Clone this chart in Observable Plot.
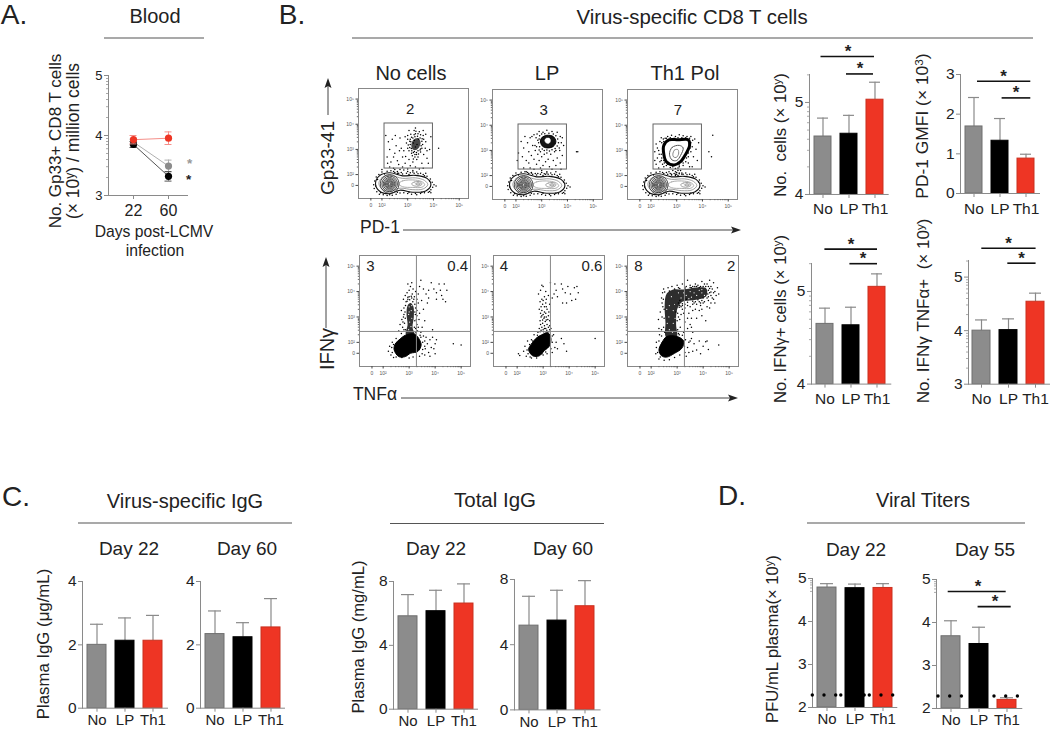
<!DOCTYPE html>
<html><head><meta charset="utf-8">
<script src="https://cdn.jsdelivr.net/npm/d3@7"></script>
<script src="https://cdn.jsdelivr.net/npm/@observablehq/plot@0.6"></script>
<style>
html,body{margin:0;padding:0;background:#fff}
#page{position:relative;width:1050px;height:730px;overflow:hidden;font-family:"Liberation Sans",Arial,sans-serif;color:#222}
.lab{position:absolute;white-space:nowrap;line-height:1}
.lab sup{font-size:.68em;line-height:0;vertical-align:.42em}
</style></head><body><div id="page"></div>
<script>
// ---------- bar chart data ----------
const groups = ["No","LP","Th1"];
const groupColors = {No:"#8c8c8c",LP:"#000000",Th1:"#ee3524"};
const groupEdges = {No:"#6f6f6f",LP:"#000000",Th1:"#c9301f"};

const cellsMean = [4.63,4.66,5.03], cellsErr = [4.83,4.86,5.22];
const pd1Mean = [1.69,1.33,0.88], pd1Err = [2.42,1.89,0.99];
const ifnMean = [4.65,4.635,5.05], ifnErr = [4.82,4.83,5.19];
const dualMean = [4.0,4.01,4.54], dualErr = [4.2,4.22,4.7];
const vsIg22Mean = [2.0,2.13,2.13], vsIg22Err = [2.65,2.85,2.93];
const vsIg60Mean = [2.34,2.24,2.55], vsIg60Err = [3.07,2.7,3.46];
const totIg22Mean = [5.82,6.14,6.62], totIg22Err = [7.18,7.45,7.85];
const totIg60Mean = [5.17,5.48,6.36], totIg60Err = [6.97,7.34,7.93];
const titer22Mean = [4.79,4.775,4.78], titer22Err = [4.88,4.87,4.88];
const titer55Mean = [3.68,3.5,2.2], titer55Err = [4.04,3.89,2.25];
const detectionLimit = 2.29;

const logTicks45 = [4.3,4.48,4.6,4.7,4.78,4.85,4.9,4.95,5.3];
const logTicks35 = [3.3,3.48,3.6,3.7,3.78,3.85,3.9,3.95,4.3,4.48,4.6,4.7,4.78,4.85,4.9,4.95,5.3];
const logTicksTop = [4.7,4.78,4.85,4.9,4.95];

// ---------- blood time course ----------
const days = ["22","60"];
const bloodGray = [3.89,3.49], bloodGrayErr = [0.05,0.1];
const bloodBlack = [3.85,3.32], bloodBlackErr = [0.05,0.08];
const bloodRed = [3.93,3.955], bloodRedErr = [0.07,0.105];

// ---------- flow cytometry, in log10 units ----------
const flowTicks = [1.57,2,3,4,5];
const flowTickText = {1.57:"0",2:"10²",3:"10³",4:"10⁴",5:"10⁵"};
const flowMinor = [2.3,2.48,2.6,2.7,2.78,2.85,2.9,2.95,3.3,3.48,3.6,3.7,3.78,3.85,3.9,3.95,4.3,4.48,4.6,4.7,4.78,4.85,4.9,4.95];

const gateBox = [{x1:2.1,x2:3.98,y1:2.24,y2:4.03}];
const quadX = 3.28, quadY = 2.43;

const gateLabels1 = [{x:3.1,y:4.6,t:"2"}];
const gateLabels2 = [{x:3.08,y:4.6,t:"3"}];
const gateLabels3 = [{x:3.05,y:4.6,t:"7"}];
const quadLabels1 = [{x:1.51,y:5.0,t:"3"},{x:4.87,y:5.0,t:"0.4"}];
const quadLabels2 = [{x:1.49,y:5.0,t:"4"},{x:4.88,y:5.0,t:"0.6"}];
const quadLabels3 = [{x:1.51,y:5.0,t:"8"},{x:5.08,y:5.0,t:"2"}];

const bandOuter = [[1.75,1.65],[1.9,1.95],[2.3,2.07],[2.8,1.95],[3.3,1.97],[3.75,1.85],[3.9,1.6],[3.7,1.35],[3.2,1.3],[2.7,1.38],[2.3,1.24],[1.9,1.35]];
const bandMid = [[1.88,1.65],[2.0,1.88],[2.3,1.97],[2.8,1.85],[3.3,1.87],[3.65,1.77],[3.78,1.6],[3.6,1.43],[3.2,1.4],[2.7,1.46],[2.3,1.33],[2.0,1.42]];
const bandInner = [[2.65,1.63],[2.8,1.75],[3.3,1.78],[3.58,1.7],[3.66,1.6],[3.55,1.5],[3.2,1.49],[2.8,1.52]];
const bandRight = [[3.15,1.63],[3.25,1.7],[3.45,1.72],[3.56,1.63],[3.45,1.55],[3.25,1.55]];
const bandRightCore = [[3.3,1.63],[3.4,1.67],[3.5,1.63],[3.4,1.59]];
const leftRings = [{x:2.3,y:1.63,r:1.2},{x:2.3,y:1.63,r:2.2},{x:2.3,y:1.63,r:3.2},{x:2.3,y:1.63,r:4.2},{x:2.3,y:1.63,r:5.2},{x:2.3,y:1.63,r:6.4},{x:2.3,y:1.63,r:7.8},{x:2.3,y:1.63,r:9.4}];
const bandSpecks = [[1.68,1.6],[1.72,1.75],[1.7,1.45],[1.78,1.9],[1.8,1.32],[1.88,2.0],[1.9,1.22],[2.0,2.1],[2.05,1.2],[2.2,2.13],[2.2,1.17],[2.35,2.15],[2.4,1.18],[2.5,2.08],[2.55,1.22],[2.65,2.05],[2.7,1.27],[2.8,2.02],[2.85,1.28],[2.95,2.05],[3.0,1.25],[3.1,2.07],[3.15,1.22],[3.25,2.05],[3.3,1.25],[3.4,2.03],[3.5,1.25],[3.6,2.0],[3.65,1.28],[3.75,1.93],[3.8,1.3],[3.88,1.82],[3.9,1.4],[3.95,1.7],[3.97,1.5],[4.02,1.6],[4.1,1.55],[2.6,2.12],[3.0,2.12],[3.35,2.1],[3.7,2.05],[3.85,1.33],[1.76,1.55],[1.83,1.8],[1.95,1.28],[2.1,2.02],[2.45,2.12],[2.75,2.08],[3.05,2.0],[3.2,2.1],[3.5,2.05],[3.65,1.95],[3.85,1.75],[3.9,1.28],[3.55,1.3],[3.35,1.2],[3.05,1.3],[2.6,1.3],[2.3,1.2]];

const f1Core = [[3.14,3.15],[3.22,3.38],[3.4,3.45],[3.5,3.28],[3.44,3.08],[3.32,2.98],[3.2,3.0]];
const f1Scatter = [[2.15,3.55],[2.25,3.3],[2.3,3.0],[2.2,2.7],[2.35,2.5],[2.4,3.4],[2.5,2.85],[2.55,3.15],[2.6,2.55],[2.65,2.4],[2.7,3.45],[2.75,3.05],[2.8,2.7],[2.85,2.95],[2.9,2.45],[2.95,3.25],[3.0,3.55],[3.05,2.6],[3.1,2.35],[3.15,2.85],[3.2,2.5],[3.25,3.75],[3.4,2.7],[3.5,2.9],[3.55,2.45],[3.6,3.75],[3.7,3.3],[3.75,2.65],[3.85,3.0],[3.9,3.5],[2.45,2.25],[2.8,2.3],[3.3,2.3],[3.6,2.25],[4.2,3.05],[2.0,2.2],[2.3,2.3],[3.0,3.05],[2.6,2.05],[2.45,2.7],[2.68,2.95],[2.22,2.45],[2.52,3.55],[2.9,3.5],[3.05,3.75],[2.92,2.72],[3.12,3.6],[3.3,3.85],[3.45,3.7],[3.62,3.4],[3.68,3.05],[3.62,2.8],[3.8,2.45],[3.1,3.2],[3.0,3.4],[3.05,2.95],[3.18,2.75],[3.28,2.8],[3.35,2.6],[3.42,2.82],[3.55,3.05],[3.58,3.2],[3.6,3.55],[3.4,3.62],[3.25,3.58],[3.15,3.48],[3.08,3.32],[3.02,3.18],[3.48,2.98],[3.26,2.92],[3.14,3.04],[3.56,3.42],[3.5,3.58],[3.32,3.72],[3.7,3.6],[3.75,2.95],[2.7,2.2],[3.0,2.22],[3.45,2.22],[2.5,2.2],[2.85,2.18],[3.2,2.16],[3.12,3.3],[3.2,3.45],[3.1,3.4],[3.28,3.5],[3.38,3.52],[3.48,3.45],[3.55,3.32],[3.52,3.15],[3.5,3.02],[3.4,2.95],[3.34,2.88],[3.22,2.88],[3.16,2.95],[3.08,3.08],[3.3,3.62],[3.42,3.4],[3.3,3.1],[3.22,3.25],[3.36,3.2],[3.26,3.35],[3.34,2.8],[3.28,2.7],[3.22,2.62]];

const f2Hole = [[3.12,3.4],[3.18,3.48],[3.3,3.48],[3.34,3.38],[3.28,3.28],[3.17,3.3]];
const f2Outer = [[2.95,3.38],[3.02,3.52],[3.2,3.6],[3.45,3.55],[3.55,3.35],[3.45,3.16],[3.2,3.1],[3.02,3.18]];
const f2Scatter = [[2.2,3.35],[2.3,3.1],[2.35,3.55],[2.45,3.3],[2.5,2.95],[2.55,3.5],[2.6,2.8],[2.65,3.2],[2.25,2.75],[2.4,2.6],[2.5,2.5],[2.55,2.3],[2.7,2.65],[2.75,3.0],[2.8,2.45],[2.85,2.85],[2.9,2.6],[2.95,2.95],[3.0,2.75],[3.05,2.4],[3.1,2.85],[3.15,2.55],[3.2,2.9],[3.25,2.65],[3.3,2.35],[3.35,2.85],[3.45,2.6],[3.5,2.95],[3.55,2.4],[3.6,2.7],[3.7,3.0],[3.72,2.5],[3.8,2.8],[3.85,3.2],[2.3,2.3],[2.7,2.25],[3.0,2.2],[3.4,2.25],[3.75,2.25],[2.05,2.6],[2.1,2.9],[4.35,2.95],[4.4,2.95],[2.78,3.5],[2.74,3.2],[2.82,3.65],[2.9,3.75],[3.05,3.72],[3.2,3.8],[3.4,3.75],[3.6,3.72],[3.72,3.55],[3.76,3.3],[3.68,3.1],[3.55,3.0],[3.3,2.98],[3.1,3.0],[2.9,3.02],[2.8,3.15],[2.7,3.62],[3.8,3.5],[2.62,3.55],[2.95,2.3],[3.2,2.15],[2.6,2.1],[2.4,2.15],[3.55,2.15],[3.15,2.05],[2.85,2.08],[2.88,3.3],[2.9,3.45],[2.92,3.58],[3.0,3.65],[3.12,3.66],[3.28,3.68],[3.45,3.65],[3.55,3.58],[3.62,3.45],[3.65,3.3],[3.6,3.18],[3.52,3.08],[3.4,3.03],[3.2,3.02],[3.02,3.06],[2.92,3.15],[2.85,3.4]];

const f3Ring = [[2.5,3.2],[2.7,3.42],[3.05,3.42],[3.45,3.42],[3.5,3.2],[3.35,2.85],[3.15,2.55],[2.9,2.42],[2.6,2.55],[2.5,2.85]];
const f3InnerA = [[2.72,2.85],[2.82,3.12],[3.1,3.2],[3.25,3.1],[3.15,2.8],[3.0,2.6],[2.82,2.62]];
const f3InnerB = [[2.85,2.85],[2.92,3.02],[3.05,3.03],[3.07,2.85],[2.98,2.72],[2.88,2.74]];
const f3Scatter = [[2.2,3.25],[2.3,3.0],[2.35,3.35],[2.25,2.7],[2.4,2.85],[2.35,2.55],[2.45,3.1],[2.42,3.3],[2.3,2.3],[2.2,2.45],[2.45,2.45],[2.5,2.6],[2.42,2.7],[2.32,2.85],[2.5,3.35],[2.55,3.48],[2.65,3.55],[2.8,3.6],[2.95,3.55],[3.1,3.62],[3.25,3.58],[3.4,3.55],[3.55,3.55],[3.62,3.4],[3.6,3.15],[3.55,2.95],[3.45,2.75],[3.35,2.55],[3.25,2.4],[3.1,2.35],[2.95,2.28],[2.75,2.32],[2.6,2.4],[2.5,2.35],[2.85,2.2],[2.95,2.15],[3.05,2.2],[2.9,2.08],[3.0,2.05],[3.1,2.1],[2.8,2.05],[3.15,2.2],[3.2,2.05],[2.7,2.15],[2.95,2.0],[3.05,2.3],[3.45,2.5],[3.6,2.35],[3.7,3.45],[3.75,3.05],[3.8,2.6],[3.65,2.75],[3.5,2.35],[3.85,3.3],[4.4,3.6],[4.35,2.75],[4.25,2.95],[2.25,3.1],[2.15,2.95],[2.15,2.6],[2.55,3.3],[2.48,3.45],[2.4,3.5],[2.6,3.48],[2.75,3.5],[2.9,3.48],[3.05,3.5],[3.2,3.5],[3.35,3.5],[3.5,3.48],[3.55,3.3],[3.52,3.1],[3.45,2.9],[3.38,2.7],[3.25,2.5],[3.1,2.42],[2.85,2.35],[2.65,2.45],[2.52,2.5],[2.45,2.95],[2.48,3.05],[2.4,2.6]];

const f4Blob = [[2.42,1.72],[2.47,1.95],[2.65,2.13],[2.85,2.28],[3.2,2.33],[3.4,2.1],[3.46,1.88],[3.33,1.64],[3.05,1.57],[2.85,1.44],[2.6,1.44]];
const f4Column = [[2.88,2.3],[2.94,2.7],[2.9,3.1],[2.94,3.45],[3.05,3.55],[3.16,3.42],[3.18,3.0],[3.13,2.6],[3.2,2.3]];
const f4Holes = [[3.0,3.4],[3.08,3.25],[2.98,3.1],[3.1,2.95],[3.02,2.8],[3.07,2.62],[2.98,2.5],[3.1,3.45],[3.0,3.2]];
const f4Scatter = [[2.2,1.65],[2.3,1.5],[2.25,1.85],[2.35,2.0],[2.4,1.4],[2.5,2.15],[2.7,2.35],[2.75,2.6],[2.78,3.0],[2.8,3.35],[2.78,3.7],[2.85,3.85],[2.92,3.95],[3.0,4.05],[3.05,4.2],[3.12,3.9],[3.2,3.8],[3.25,4.0],[3.3,3.7],[3.25,3.35],[3.3,3.05],[3.3,2.7],[3.32,2.45],[3.45,2.4],[3.55,2.25],[3.6,2.05],[3.7,1.95],[3.62,1.75],[3.75,1.6],[3.85,1.8],[3.95,1.75],[4.0,1.95],[3.9,2.2],[4.05,2.1],[4.0,1.55],[3.8,1.45],[3.6,1.5],[3.4,1.45],[3.15,1.42],[3.0,1.38],[4.7,1.95],[5.0,1.9],[3.45,4.45],[3.4,4.2],[3.55,4.1],[3.65,3.9],[3.75,4.05],[3.85,4.35],[3.95,4.1],[4.05,3.95],[4.15,4.3],[4.25,3.85],[4.2,4.05],[4.3,3.7],[4.05,3.7],[4.35,4.3],[4.45,4.05],[3.7,3.55],[3.55,3.3],[3.6,2.85],[3.5,2.6],[3.9,2.5],[3.75,3.75],[4.4,3.6],[3.35,3.55],[3.4,3.15],[3.38,2.9],[2.72,2.9],[2.7,3.25],[2.65,2.7],[2.6,2.45],[3.1,4.35],[2.95,4.3],[2.88,3.6],[3.15,4.1],[3.35,3.9],[3.48,3.65],[3.0,3.8],[2.8,2.5],[3.25,2.55],[3.22,3.2],[3.3,3.25],[3.1,3.75],[2.95,3.7],[3.35,2.6],[3.45,2.2],[3.6,1.85],[3.65,2.2],[3.8,2.1],[3.5,1.55],[2.86,2.5],[2.82,2.75],[2.85,2.95],[2.84,3.2],[2.86,3.45],[2.92,3.62],[3.02,3.68],[3.14,3.6],[3.22,3.5],[3.24,3.1],[3.22,2.85],[3.2,2.6],[3.26,2.38],[2.95,3.78],[3.08,3.82],[2.8,3.1],[2.76,2.8],[3.28,2.9],[3.18,3.7],[2.5,1.42],[2.72,1.4],[2.35,1.6],[2.33,1.8],[2.4,1.92],[3.52,1.72],[3.52,2.0],[3.42,2.28]];

const f5Blob = [[2.44,1.72],[2.56,1.95],[2.75,2.18],[2.95,2.3],[3.18,2.38],[3.3,2.15],[3.23,1.84],[3.05,1.68],[2.85,1.47],[2.6,1.47]];
const f5Scatter = [[2.05,1.55],[2.1,1.48],[2.25,1.65],[2.35,1.45],[2.3,1.85],[2.4,2.05],[2.55,2.1],[2.65,2.3],[2.8,2.4],[2.85,2.55],[2.9,2.7],[2.95,2.6],[3.0,2.5],[3.05,2.65],[3.1,2.55],[3.15,2.7],[3.2,2.6],[3.25,2.5],[2.88,2.85],[2.92,3.0],[2.98,2.88],[3.03,2.95],[3.08,2.82],[3.12,3.0],[3.18,2.9],[3.2,3.05],[2.9,3.15],[2.95,3.25],[3.0,3.1],[3.05,3.2],[3.1,3.15],[3.15,3.3],[2.92,3.4],[2.98,3.5],[3.05,3.4],[3.1,3.55],[3.0,3.65],[2.95,3.7],[3.05,3.8],[3.12,3.7],[2.85,3.3],[2.88,3.6],[2.82,3.9],[2.9,4.05],[3.0,4.2],[3.1,4.0],[2.95,4.25],[3.2,3.85],[3.25,3.5],[3.22,3.2],[3.25,2.85],[3.28,4.35],[3.35,3.75],[3.42,3.9],[3.5,4.05],[3.55,3.8],[3.45,4.3],[3.7,4.3],[3.75,4.1],[3.85,3.95],[3.95,4.2],[4.05,3.9],[4.1,3.65],[4.2,4.15],[4.3,4.2],[4.35,3.95],[4.25,3.7],[3.9,3.55],[3.75,3.55],[3.35,2.0],[3.4,2.3],[3.45,1.8],[3.35,1.6],[3.5,2.0],[3.7,2.15],[3.55,1.75],[3.8,1.95],[3.9,1.65],[5.0,2.15],[3.15,1.55],[3.0,1.5],[2.75,1.38],[2.55,1.38],[3.3,2.55],[3.25,2.65],[3.05,3.0],[3.12,3.4],[2.92,2.48],[3.02,2.42],[3.14,2.48],[3.22,2.42],[2.98,2.75],[3.12,2.88],[2.95,3.05],[3.05,2.55],[2.88,2.42],[2.78,2.28],[2.6,2.05],[2.48,1.92],[2.38,1.7],[2.42,1.55],[2.5,1.42],[2.95,1.55],[3.1,1.62],[3.3,1.75],[3.35,2.25]];

const f6Blob = [[2.3,1.7],[2.42,2.0],[2.6,2.23],[3.0,2.23],[3.25,2.05],[3.18,1.77],[2.9,1.57],[2.6,1.42],[2.4,1.47]];
const f6Column = [[2.58,2.2],[2.55,2.8],[2.52,3.5],[2.6,3.92],[2.85,4.08],[3.25,4.08],[3.75,4.16],[4.12,4.12],[4.12,3.82],[3.6,3.66],[3.2,3.6],[3.0,3.3],[2.96,2.7],[2.98,2.2]];
const f6Holes = [[2.7,2.5],[2.85,2.75],[2.68,3.0],[2.85,3.25],[2.7,3.45],[2.82,2.4],[2.62,2.75],[2.9,3.5],[3.15,3.75],[3.35,3.85],[3.55,3.78],[3.75,3.85],[3.95,3.95],[4.05,3.85],[3.85,4.05],[3.5,4.0],[3.25,3.95],[3.65,3.95],[3.95,4.08],[3.45,3.72],[2.78,3.8],[3.05,3.95],[2.92,2.95],[2.6,3.3]];
const f6Scatter = [[2.4,3.75],[2.45,3.4],[2.42,3.0],[2.48,2.6],[2.4,2.25],[2.3,2.05],[2.2,1.8],[2.18,1.55],[2.3,1.35],[2.5,1.3],[2.7,1.32],[2.9,1.4],[3.1,1.5],[3.3,1.6],[3.4,1.8],[3.45,2.0],[3.55,2.15],[3.65,1.95],[3.75,1.7],[3.9,1.55],[4.0,1.85],[3.85,2.05],[4.2,1.72],[4.6,1.9],[4.1,2.02],[2.48,4.1],[2.65,4.15],[2.8,4.2],[3.0,4.25],[3.2,4.3],[3.3,4.15],[3.4,4.45],[3.5,4.25],[3.6,4.2],[3.7,4.3],[3.8,4.25],[3.95,4.4],[4.05,4.3],[4.15,4.3],[4.25,4.45],[4.3,4.2],[4.35,4.1],[4.4,4.35],[4.45,4.0],[4.5,3.85],[4.35,3.75],[4.3,3.55],[4.2,3.65],[4.15,3.4],[4.0,3.55],[3.9,3.45],[3.75,3.5],[3.85,3.25],[3.7,3.3],[3.6,3.5],[3.5,3.4],[3.4,3.45],[3.3,3.35],[3.2,3.3],[3.15,3.1],[3.1,2.9],[3.12,2.6],[3.08,2.3],[3.25,2.4],[3.3,2.8],[3.4,2.95],[3.45,3.15],[3.55,2.95],[3.6,3.25],[3.75,2.95],[3.95,3.05],[4.1,2.85],[3.5,2.7],[3.4,2.55],[3.55,2.6],[3.15,3.4],[3.25,3.15],[3.05,3.0],[2.9,3.5],[2.95,3.2],[2.4,2.5],[2.35,3.2],[2.28,2.9],[2.3,2.55],[2.42,3.55],[2.44,3.95],[4.6,3.9],[4.55,4.15],[4.25,3.95],[4.3,3.85],[4.4,3.95],[4.2,4.2],[4.1,4.2],[3.9,4.2],[3.75,4.2],[3.55,4.15],[3.35,4.2],[3.05,4.15],[4.2,3.8],[3.9,3.55],[3.3,3.5],[3.2,3.45],[3.1,3.45],[3.65,3.55],[3.85,3.6],[4.05,3.6],[4.4,3.7],[4.45,3.55],[4.25,3.35],[3.95,3.3],[3.45,1.6],[3.6,1.65],[3.35,1.45],[3.5,2.05],[4.15,2.05],[3.6,2.4],[2.2,2.0],[2.5,3.3],[2.5,2.95],[2.52,2.4],[2.47,3.7],[2.52,3.98],[2.7,4.02],[2.9,4.1],[3.1,4.12],[3.3,4.1],[3.5,4.16],[3.68,4.2],[3.85,4.16],[4.0,4.2],[4.2,4.05],[4.25,4.12],[4.18,3.9],[4.15,3.75],[4.0,3.75],[3.8,3.68],[3.6,3.62],[3.4,3.58],[3.2,3.52],[3.08,3.38],[3.02,3.15],[3.0,2.85],[3.02,2.5],[3.05,2.35],[3.35,3.7],[3.7,3.6],[3.95,3.65],[4.3,3.98],[3.1,3.65],[3.05,3.55],[2.32,2.3],[2.25,1.6],[2.35,1.42],[3.28,1.85],[3.32,2.1],[3.2,2.28]];

// ---------- helpers ----------
const page = document.getElementById("page");
const FONT = '"Liberation Sans",Arial,sans-serif';
const AXIS = "#8a8a8a";

function lab(html,cx,cy,size,rot){
  const d=document.createElement("div");
  d.className="lab";d.innerHTML=html;
  d.style.left=cx+"px";d.style.top=cy+"px";d.style.fontSize=size+"px";
  d.style.transform="translate(-50%,-50%)"+(rot?` rotate(${rot}deg)`:"");
  page.appendChild(d);
}
function place(svg,left,top){
  svg.style.position="absolute";svg.style.left=left+"px";svg.style.top=top+"px";
  svg.style.overflow="visible";svg.style.background="transparent";
  page.appendChild(svg);
}
function barPanel(p){
  const rows=groups.map((g,i)=>({g,mean:p.mean[i],err:p.err[i]}));
  const low=p.bottom>600;
  const mL=30,mR=10,mB=low?Math.floor(729-p.bottom):32,mT=p.mT??8;
  const w=p.right-p.axisX+mL+mR, h=p.bottom-p.top+mT+mB;
  const floor=p.domain[0];
  const marks=[
    Plot.ruleX(rows,{x:"g",y1:"mean",y2:"err",stroke:"#8a8a8a",strokeWidth:1.2}),
    Plot.tickY(rows,{x:"g",y:"err",stroke:"#8a8a8a",strokeWidth:1.2,insetLeft:3,insetRight:3}),
    Plot.barY(rows,{x:"g",y1:()=>floor,y2:"mean",fill:d=>groupColors[d.g],stroke:d=>groupEdges[d.g],strokeWidth:1}),
    Plot.frame({anchor:"left",stroke:AXIS}),
    Plot.frame({anchor:"bottom",stroke:AXIS}),
    Plot.axisY({ticks:p.ticks,tickFormat:d=>String(d),tickSize:4,tickPadding:2,label:null,fontSize:15.5,fill:"#222",stroke:AXIS}),
    Plot.axisX({tickSize:4,tickPadding:low?2:5,label:null,fontSize:low?15:15.5,fill:"#222",stroke:AXIS,marginBottom:mB})
  ];
  if(p.minor) marks.push(Plot.axisY({ticks:p.minor,tickSize:2,fill:"none",label:null,stroke:"#aaa"}));
  for(const b of (p.brackets||[])){
    marks.push(Plot.ruleY([b.y],{x1:()=>b.from,x2:()=>b.to,insetLeft:b.l,insetRight:b.r,stroke:"#111",strokeWidth:1.6}));
    marks.push(Plot.text([b.y],{x:()=>"LP",y:d=>d,text:()=>"*",dx:b.dx,dy:-5,fontSize:17,fontWeight:"bold",fill:"#222"}));
  }
  if(p.dots) for(const s of p.dots) for(const off of [-11.7,0,11.7])
    marks.push(Plot.dot([detectionLimit],{x:()=>s.g,y:d=>d,dx:s.dx+off,r:1.7,fill:"#000"}));
  const svg=Plot.plot({width:w,height:h,marginLeft:mL,marginRight:mR,marginTop:mT,marginBottom:mB,
    style:{fontFamily:FONT},
    x:{type:"band",domain:groups,paddingInner:0.33,paddingOuter:0.16,label:null},
    y:{domain:p.domain,label:null},
    color:{type:"identity"},
    marks});
  place(svg,p.axisX-mL,p.top-mT);
}
function flowPanel(p){
  const mL=22,mR=6,mT=6,mB=18;
  const w=p.w+mL+mR,h=p.h+mT+mB;
  const pts=(a,o)=>Plot.dot(a,{x:d=>d[0],y:d=>d[1],r:0.75,fill:"#000",...o});
  const closed=(a,o)=>Plot.line(a,{x:d=>d[0],y:d=>d[1],curve:"catmull-rom-closed",fill:"none",...o});
  const marks=[];
  if(p.band){
    marks.push(closed(bandOuter,{stroke:"#111",strokeWidth:1.1}));
    marks.push(closed(bandMid,{stroke:"#888",strokeWidth:0.8}));
    marks.push(closed(bandInner,{stroke:"#999",strokeWidth:0.8}));
    marks.push(closed(bandRight,{stroke:"#888",strokeWidth:0.8}));
    marks.push(closed(bandRightCore,{stroke:"#777",strokeWidth:0.8}));
    marks.push(Plot.dot(leftRings,{x:"x",y:"y",r:"r",stroke:"#222",strokeWidth:0.8,fill:"none"}));
    marks.push(pts(bandSpecks));
  }
  (p.masses||[]).forEach(m=>marks.push(closed(m.pts,{fill:m.fill??"#000",fillOpacity:m.o??1,stroke:m.stroke??"#000",strokeWidth:m.sw??1})));
  (p.rings||[]).forEach(m=>marks.push(closed(m.pts,{stroke:m.c,strokeWidth:m.sw})));
  marks.push(pts(p.scatter));
  if(p.holes) marks.push(pts(p.holes,{fill:"#fff",r:0.6}));
  if(p.gate) marks.push(Plot.rect(gateBox,{x1:"x1",x2:"x2",y1:"y1",y2:"y2",stroke:"#666",fill:"none",strokeWidth:1}));
  if(p.quad){
    marks.push(Plot.ruleX([quadX],{stroke:"#888",strokeWidth:1}));
    marks.push(Plot.ruleY([quadY],{stroke:"#888",strokeWidth:1}));
  }
  marks.push(Plot.text(p.labels,{x:"x",y:"y",text:"t",fontSize:15,fill:"#222"}));
  marks.push(Plot.frame({stroke:"#888"}));
  marks.push(Plot.axisX({ticks:flowTicks,tickFormat:d=>flowTickText[d],tickSize:2.5,tickPadding:2,fontSize:5,label:null,fill:"#555",stroke:"#444"}));
  marks.push(Plot.axisY({ticks:flowTicks,tickFormat:d=>flowTickText[d],tickSize:2.5,tickPadding:2,fontSize:5,label:null,fill:"#555",stroke:"#444"}));
  marks.push(Plot.axisX({ticks:flowMinor,fill:"none",tickSize:1.2,label:null,stroke:"#666"}));
  marks.push(Plot.axisY({ticks:flowMinor,fill:"none",tickSize:1.2,label:null,stroke:"#666"}));
  const svg=Plot.plot({width:w,height:h,marginLeft:mL,marginRight:mR,marginTop:mT,marginBottom:mB,
    style:{fontFamily:FONT},
    x:{domain:[1.09,5.36],label:null},y:{domain:[1.05,5.42],label:null},
    r:{type:"identity"},marks});
  place(svg,p.x-mL,p.y-mT);
}

// ---------- blood panel ----------
(function(){
  const series=[
    {name:"gray",v:bloodGray,e:bloodGrayErr,line:"#b0b0b0",dot:"#8c8c8c"},
    {name:"black",v:bloodBlack,e:bloodBlackErr,line:"#555",dot:"#000"},
    {name:"red",v:bloodRed,e:bloodRedErr,line:"#f5908a",dot:"#ee3524"}];
  const mL=30,mR=12,mT=6,mB=32;
  const w=187-108+mL+mR,h=195-75+mT+mB;
  const marks=[Plot.frame({anchor:"left",stroke:AXIS}),Plot.frame({anchor:"bottom",stroke:AXIS})];
  for(const s of series){
    const rows=days.map((d,i)=>({d,v:s.v[i],lo:s.v[i]-s.e[i],hi:s.v[i]+s.e[i]}));
    marks.push(Plot.line(rows,{x:"d",y:"v",stroke:s.line,strokeWidth:1}));
    marks.push(Plot.ruleX(rows,{x:"d",y1:"lo",y2:"hi",stroke:s.line,strokeWidth:1}));
    marks.push(Plot.tickY(rows,{x:"d",y:"hi",stroke:s.line,strokeWidth:1,insetLeft:3.5,insetRight:3.5}));
    marks.push(Plot.tickY(rows,{x:"d",y:"lo",stroke:s.line,strokeWidth:1,insetLeft:3.5,insetRight:3.5}));
    marks.push(Plot.dot(rows,{x:"d",y:"v",r:3.6,fill:s.dot}));
  }
  marks.push(Plot.text([3.56],{x:()=>"60",y:d=>d,text:()=>"*",dx:21,dy:2,fontSize:13.5,fontWeight:"bold",fill:"#999"}));
  marks.push(Plot.text([3.29],{x:()=>"60",y:d=>d,text:()=>"*",dx:20,dy:2,fontSize:13.5,fontWeight:"bold",fill:"#222"}));
  marks.push(Plot.axisY({ticks:[3,4,5],tickFormat:d=>String(d),tickSize:4,tickPadding:2,label:null,fontSize:13,fill:"#222",stroke:AXIS}));
  marks.push(Plot.axisY({ticks:logTicks35.slice(0,-1),tickSize:2,fill:"none",label:null,stroke:"#aaa"}));
  marks.push(Plot.axisX({tickSize:4,tickPadding:5,label:null,fontSize:16,fill:"#222",stroke:AXIS}));
  const svg=Plot.plot({width:w,height:h,marginLeft:mL,marginRight:mR,marginTop:mT,marginBottom:mB,
    style:{fontFamily:FONT},
    x:{type:"band",domain:days,range:[mL+17,mL+67],paddingInner:0.611,paddingOuter:0,label:null},
    y:{domain:[3,5],label:null},marks});
  place(svg,108-mL,75-mT);
})();

// ---------- flow panels ----------
flowPanel({x:358,y:88,w:110,h:110,band:true,gate:true,labels:gateLabels1,scatter:f1Scatter,masses:[{pts:f1Core,o:0.72,stroke:"none"}]});
flowPanel({x:491.5,y:88.5,w:110,h:110,band:true,gate:true,labels:gateLabels2,scatter:f2Scatter,
  masses:[{pts:f2Outer,o:0.92},{pts:f2Hole,fill:"#fff",stroke:"#fff",sw:0.5}]});
flowPanel({x:627,y:88.5,w:110,h:110,band:true,gate:true,labels:gateLabels3,scatter:f3Scatter,
  rings:[{pts:f3Ring,c:"#000",sw:3},{pts:f3InnerA,c:"#555",sw:1},{pts:f3InnerB,c:"#888",sw:1}]});
flowPanel({x:359,y:255,w:111,h:111,quad:true,labels:quadLabels1,scatter:f4Scatter,holes:f4Holes,masses:[{pts:f4Blob},{pts:f4Column,o:0.8,stroke:"none"}]});
flowPanel({x:492.5,y:255,w:111,h:111,quad:true,labels:quadLabels2,scatter:f5Scatter,masses:[{pts:f5Blob}]});
flowPanel({x:627,y:255,w:111,h:111,quad:true,labels:quadLabels3,scatter:f6Scatter,holes:f6Holes,masses:[{pts:f6Blob},{pts:f6Column,o:0.82,stroke:"none"}]});

// ---------- bar panels ----------
barPanel({axisX:809.3,right:888,top:74,bottom:194,domain:[4,5.304],ticks:[4,5],minor:logTicks45,mean:cellsMean,err:cellsErr,mT:30,
  brackets:[{y:5.5,from:"No",to:"Th1",l:6.5,r:9,dx:-1},{y:5.31,from:"LP",to:"Th1",l:6,r:10,dx:11}]});
barPanel({axisX:960,right:1039,top:74.3,bottom:193.3,domain:[0,3],ticks:[0,1,2,3],mean:pd1Mean,err:pd1Err,
  brackets:[{y:2.83,from:"No",to:"Th1",l:12,r:3.7,dx:3.5},{y:2.41,from:"LP",to:"Th1",l:10.6,r:3.7,dx:16}]});
barPanel({axisX:810.7,right:890,top:262.7,bottom:383.3,domain:[4,5.302],ticks:[4,5],minor:logTicks45,mean:ifnMean,err:ifnErr,mT:30,
  brackets:[{y:5.457,from:"No",to:"Th1",l:8.4,r:8,dx:0},{y:5.3,from:"LP",to:"Th1",l:7.4,r:8,dx:12}]});
barPanel({axisX:967.7,right:1048.7,top:260,bottom:383.7,domain:[3,5.31],ticks:[3,4,5],minor:logTicks35,mean:dualMean,err:dualErr,mT:30,
  brackets:[{y:5.54,from:"No",to:"Th1",l:9.3,r:8.4,dx:0},{y:5.26,from:"LP",to:"Th1",l:8.3,r:8.4,dx:13}]});
barPanel({axisX:81.7,right:166.7,top:581,bottom:707.7,domain:[0,4],ticks:[0,2,4],mean:vsIg22Mean,err:vsIg22Err});
barPanel({axisX:200.3,right:284.3,top:581,bottom:707.7,domain:[0,4],ticks:[0,2,4],mean:vsIg60Mean,err:vsIg60Err});
barPanel({axisX:393.3,right:477.3,top:581,bottom:708.7,domain:[0,8],ticks:[0,4,8],mean:totIg22Mean,err:totIg22Err});
barPanel({axisX:513.7,right:599.3,top:579.3,bottom:709.7,domain:[0,8],ticks:[0,4,8],mean:totIg60Mean,err:totIg60Err});
barPanel({axisX:811.7,right:896,top:578.3,bottom:707.3,domain:[2,5],ticks:[2,3,4,5],minor:logTicksTop,mean:titer22Mean,err:titer22Err,
  dots:[{g:"No",dx:-3},{g:"LP",dx:-2.5},{g:"Th1",dx:-2}]});
barPanel({axisX:935.7,right:1021,top:579,bottom:708,domain:[2,5],ticks:[2,3,4,5],minor:logTicksTop,mean:titer55Mean,err:titer55Err,
  brackets:[{y:4.72,from:"No",to:"Th1",l:6.7,r:10.3,dx:-1},{y:4.37,from:"LP",to:"Th1",l:8.6,r:5.3,dx:16}],
  dots:[{g:"No",dx:-1.3},{g:"Th1",dx:-1.3}]});

// ---------- text ----------
lab("A.",14,15,28);lab("B.",292,15,28);lab("C.",16,497,28);lab("D.",732,496,28);
lab("Blood",155,16,20);lab("Virus-specific CD8 T cells",692,17,20.4);
lab("Virus-specific IgG",185,501,20);lab("Total IgG",495,500,20.5);lab("Viral Titers",923,500,20);
lab("Day 22",129,548,19);lab("Day 60",247,548,19);lab("Day 22",436,548,19);lab("Day 60",563,548,19);
lab("Day 22",856,549,19);lab("Day 55",985,549,19);
lab("No cells",411,73,20);lab("LP",547,73,20);lab("Th1 Pol",685,73,20);
lab("Gp33-41",327,158,19,-90);lab("PD-1",380,228,17.5);
lab("IFNγ",327,349,20,-90);lab("TNFα",375,395,17.5);
lab("No. Gp33+ CD8 T cells",55,141,17,-90);lab("(× 10<sup>y</sup>) / million cells",74,141,17.5,-90);
lab("Days post-LCMV",154,232,15.7);lab("infection",155,251,15.7);
lab("No.&nbsp; cells (× 10<sup>y</sup>)",781,135,16.8,-90);
lab("PD-1 GMFI (× 10<sup>3</sup>)",923,126,17.4,-90);
lab("No. IFNγ+ cells (× 10<sup>y</sup>)",781,319,16.7,-90);
lab("No. IFNγ TNFα+&nbsp; (× 10<sup>y</sup>)",923,311,17,-90);
lab("Plasma IgG (μg/mL)",44,644,16.8,-90);lab("Plasma IgG (mg/mL)",359,637,16.6,-90);
lab("PFU/mL plasma(× 10<sup>y</sup>)",773,639,16.6,-90);

// ---------- section rules and arrows ----------
const NS="http://www.w3.org/2000/svg";
const over=document.createElementNS(NS,"svg");
over.setAttribute("width",1050);over.setAttribute("height",730);
over.style.cssText="position:absolute;left:0;top:0;pointer-events:none";
const add=(t,a)=>{const e=document.createElementNS(NS,t);for(const k in a)e.setAttribute(k,a[k]);over.appendChild(e);};
[[104,204,38],[352,1033,38],[78,292,523],[390,604,523.5],[807,1025,523]].forEach(([a,b,y])=>add("line",{x1:a,x2:b,y1:y,y2:y,stroke:"#555","stroke-width":1.2}));
add("line",{x1:403,x2:735,y1:230,y2:230,stroke:"#444","stroke-width":1});
add("polygon",{points:"741,230 731,226.5 733,230 731,233.5",fill:"#222"});
add("line",{x1:401,x2:732,y1:398,y2:398,stroke:"#444","stroke-width":1});
add("polygon",{points:"738,398 728,394.5 730,398 728,401.5",fill:"#222"});
add("line",{x1:328,x2:328,y1:115,y2:84,stroke:"#444","stroke-width":1});
add("polygon",{points:"328,78 324.5,88 328,86 331.5,88",fill:"#222"});
add("line",{x1:326,x2:326,y1:328,y2:262,stroke:"#444","stroke-width":1});
add("polygon",{points:"326,257 322.5,267 326,265 329.5,267",fill:"#222"});
page.appendChild(over);
</script></body></html>
